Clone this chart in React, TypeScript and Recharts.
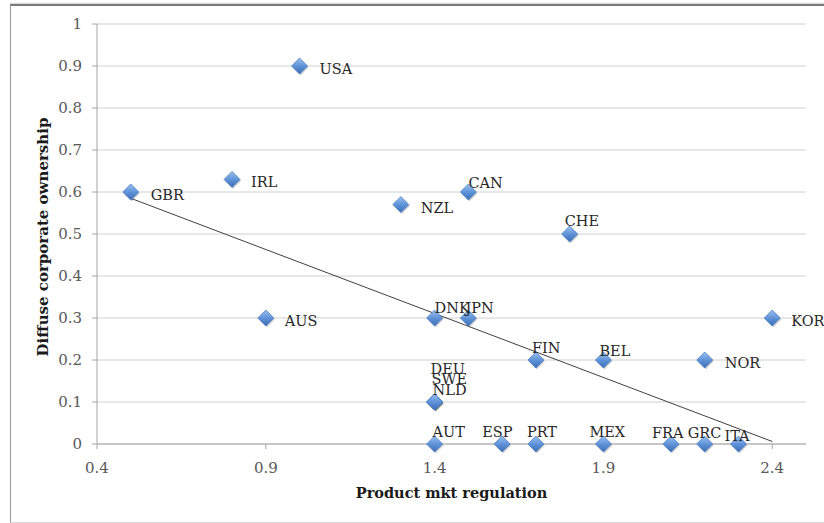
import React from "react";
import {
  ScatterChart,
  Scatter,
  XAxis,
  YAxis,
  CartesianGrid,
  Label,
} from "recharts";

const countries = [
  "GBR", "IRL", "AUS", "USA", "NZL", "DNK", "DEU", "SWE", "NLD", "AUT", "CAN", "JPN",
  "ESP", "FIN", "PRT", "CHE", "BEL", "MEX", "FRA", "NOR", "GRC", "ITA", "KOR",
];
const productRegulation = [
  0.5, 0.8, 0.9, 1.0, 1.3, 1.4, 1.4, 1.4, 1.4, 1.4, 1.5, 1.5,
  1.6, 1.7, 1.7, 1.8, 1.9, 1.9, 2.1, 2.2, 2.2, 2.3, 2.4,
];
const diffuseOwnership = [
  0.6, 0.63, 0.3, 0.9, 0.57, 0.3, 0.1, 0.1, 0.1, 0, 0.6, 0.3,
  0, 0.2, 0, 0.5, 0.2, 0, 0, 0.2, 0, 0, 0.3,
];

// linear trendline, ends
const trendX = [0.5, 2.4];
const trendY = [0.585, 0.006];

const xTicks = [0.4, 0.9, 1.4, 1.9, 2.4];
const yTicks = [0, 0.1, 0.2, 0.3, 0.4, 0.5, 0.6, 0.7, 0.8, 0.9, 1];

// label offsets from the marker centre [dx, dy]
const labelOffset: Record<string, [number, number]> = {
  USA: [20, 8], IRL: [19, 8], GBR: [20, 8], NZL: [20, 8], AUS: [19, 8],
  KOR: [19, 8], NOR: [20, 8],
  DNK: [0, -5], JPN: [-3, -5], CAN: [0, -4], CHE: [-5, -8], FIN: [-4, -7],
  BEL: [-4, -4], DEU: [-4, -28], SWE: [-3, -18], NLD: [-2, -7], AUT: [-2, -7],
  ESP: [-20, -7], PRT: [-9, -7], MEX: [-14, -7], FRA: [-19, -6], GRC: [-17, -6],
  ITA: [-14, -3],
};

const points = countries.map((name, i) => ({
  name,
  x: productRegulation[i],
  y: diffuseOwnership[i],
}));
const trend = trendX.map((x, i) => ({ x, y: trendY[i] }));

const serif = "'DejaVu Serif', serif";

const Diamond = (props: any) => {
  const { cx, cy } = props;
  const r = 8;
  const pts = (ox: number, oy: number) =>
    `${cx + ox},${cy - r + oy} ${cx + r + ox},${cy + oy} ${cx + ox},${cy + r + oy} ${cx - r + ox},${cy + oy}`;
  return (
    <g>
      <polygon points={pts(1, 1.5)} fill="#000" opacity={0.18} />
      <polygon
        points={pts(0, 0)}
        fill="url(#diamondFill)"
        stroke="#4a7ec4"
        strokeWidth={0.8}
      />
    </g>
  );
};

const CountryLabel = (props: any) => {
  const { cx, cy, payload } = props;
  const [dx, dy] = labelOffset[payload.name] || [0, -6];
  return (
    <text
      x={cx + dx}
      y={cy + dy}
      fontFamily={serif}
      fontSize={14.5}
      fill="#262626"
    >
      {payload.name}
    </text>
  );
};

const App: React.FC = () => {
  return (
    <div
      style={{
        position: "absolute",
        left: 0,
        top: 0,
        width: 824,
        height: 523,
        overflow: "hidden",
        background: "#fff",
      }}
    >
      <div
        style={{
          position: "absolute",
          left: 10,
          top: 4,
          width: 830,
          height: 516,
          borderTop: "2px solid #7a7a7a",
          borderLeft: "1px solid #9a9a9a",
          borderBottom: "1px solid #d8d8d8",
          boxShadow: "0 -1px 1px rgba(0,0,0,0.15)",
        }}
      />
      <div style={{ position: "absolute", left: 0, top: 0 }}>
        <ScatterChart
          width={824}
          height={523}
          margin={{ top: 24, right: 18, bottom: 49, left: 37 }}
        >
          <defs>
            <linearGradient id="diamondFill" x1="0" y1="0" x2="0" y2="1">
              <stop offset="0%" stopColor="#9cc2f0" />
              <stop offset="55%" stopColor="#5b8fd6" />
              <stop offset="100%" stopColor="#3c6db5" />
            </linearGradient>
          </defs>
          <CartesianGrid vertical={false} stroke="#d0d0d0" />
          <XAxis
            type="number"
            dataKey="x"
            domain={[0.4, 2.5]}
            ticks={xTicks}
            interval={0}
            height={30}
            axisLine={{ stroke: "#a6a6a6" }}
            tickLine={{ stroke: "#a6a6a6" }}
            tickSize={5}
            tickMargin={13}
            tick={{ fill: "#595959", fontSize: 15, fontFamily: serif }}
          >
            <Label
              content={(p: any) => {
                const vb = p.viewBox;
                return (
                  <text
                    x={vb.x + vb.width / 2}
                    y={vb.y + 54}
                    textAnchor="middle"
                    fontFamily={serif}
                    fontWeight="bold"
                    fontSize={14.5}
                    fill="#1a1a1a"
                  >
                    Product mkt regulation
                  </text>
                );
              }}
            />
          </XAxis>
          <YAxis
            type="number"
            dataKey="y"
            domain={[0, 1]}
            ticks={yTicks}
            interval={0}
            width={60}
            axisLine={{ stroke: "#a6a6a6" }}
            tickLine={{ stroke: "#a6a6a6" }}
            tickSize={5}
            tickMargin={10}
            tick={{ fill: "#595959", fontSize: 15, fontFamily: serif }}
          >
            <Label
              content={(p: any) => {
                const vb = p.viewBox;
                const x = vb.x + 11;
                const y = vb.y + vb.height / 2 + 3;
                return (
                  <text
                    x={x}
                    y={y}
                    transform={`rotate(-90 ${x} ${y})`}
                    textAnchor="middle"
                    fontFamily={serif}
                    fontWeight="bold"
                    fontSize={15}
                    fill="#1a1a1a"
                  >
                    Diffuse corporate ownership
                  </text>
                );
              }}
            />
          </YAxis>
          <Scatter
            data={trend}
            line={{ stroke: "#404040", strokeWidth: 1 }}
            shape={() => <g />}
            isAnimationActive={false}
          />
          <Scatter data={points} shape={Diamond} isAnimationActive={false} />
          <Scatter data={points} shape={CountryLabel} isAnimationActive={false} />
        </ScatterChart>
      </div>
    </div>
  );
};

export default App;
